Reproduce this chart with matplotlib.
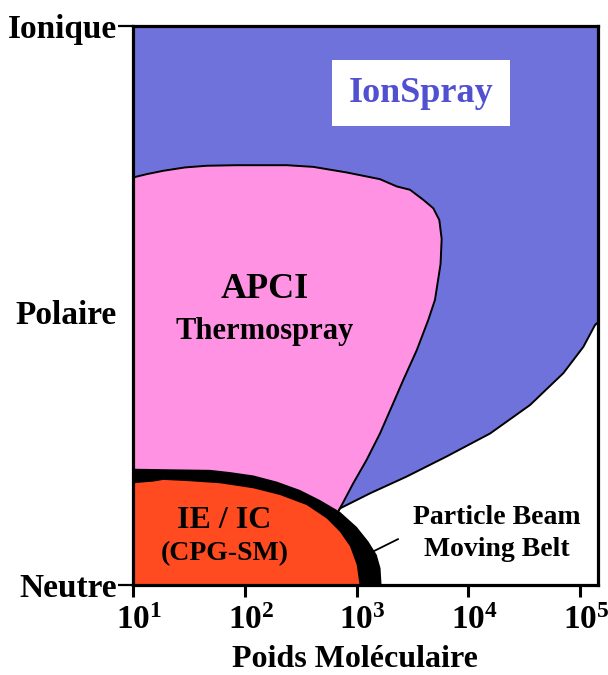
import numpy as np
import matplotlib
matplotlib.use('Agg')
import matplotlib.pyplot as plt
from matplotlib.ticker import NullLocator
from matplotlib.transforms import ScaledTranslation

plt.rcParams['font.family'] = ['Liberation Serif', 'DejaVu Serif']
plt.rcParams['font.weight'] = 'bold'
plt.rcParams['axes.labelweight'] = 'bold'
plt.rcParams['mathtext.fontset'] = 'custom'
plt.rcParams['mathtext.rm'] = 'Liberation Serif:bold'
plt.rcParams['mathtext.bf'] = 'Liberation Serif:bold'

# x = log10(poids moleculaire), y = polarite (0 = neutre, 100 = ionique)
ionspray_x = [5.161, 5.134, 5.030, 4.851, 4.553, 4.195, 3.807, 3.449, 3.121, 2.852, 2.843]
ionspray_y = [47.0, 46.5, 42.6, 37.9, 32.2, 27.1, 23.0, 19.4, 16.4, 13.7, 13.4]

apci_x = [1.000, 1.123, 1.271, 1.465, 1.660, 1.928, 2.375, 2.613, 2.912, 3.210,
          3.360, 3.479, 3.598, 3.687, 3.741, 3.762, 3.752, 3.702, 3.642, 3.539,
          3.419, 3.315, 3.210, 3.091, 2.971, 2.868, 2.843]
apci_y = [72.9, 73.5, 74.1, 74.7, 75.0, 75.1, 75.1, 74.8, 73.8, 72.6,
          71.3, 70.7, 68.9, 67.4, 65.3, 61.9, 57.4, 51.0, 47.4, 42.0,
          36.7, 31.9, 27.1, 22.4, 18.2, 14.3, 13.4]

beam_x = [1.000, 1.331, 1.689, 1.868, 2.077, 2.286, 2.494, 2.673, 2.852, 3.002,
          3.106, 3.181, 3.215, 3.224]
beam_y = [20.8, 20.7, 20.6, 20.2, 19.6, 18.5, 17.0, 15.2, 13.1, 10.4,
          7.8, 5.4, 3.0, 0.0]

ie_x = [1.000, 1.182, 1.271, 1.481, 1.779, 2.077, 2.315, 2.554, 2.733, 2.852,
        2.942, 3.002, 3.025, 3.027]
ie_y = [18.2, 18.5, 18.8, 18.6, 18.2, 17.3, 16.1, 14.3, 11.9, 9.5,
        6.9, 3.6, 0.3, 0.0]

leader_x = [3.139, 3.371]
leader_y = [5.9, 8.2]

xticks = [1, 2, 3, 4, 5]
xticklabels = [r'$\mathbf{10^{%d}}$' % k for k in xticks]
yticks = [0, 48.8, 100]
yticklabels = ['Neutre', 'Polaire', 'Ionique']

blue = '#7072DC'
pink = '#FF92E2'
red = '#FF4B1F'

fig = plt.figure(figsize=(6.08, 6.75), dpi=100)
ax = fig.add_axes([133 / 608, 1 - 585 / 675, 465 / 608, 559 / 675])

xmin, xmax = 1.0, 5.161

# IonSpray (zone bleue)
bx = [xmin, xmax] + ionspray_x + [xmin]
by = [100, 100] + ionspray_y + [ionspray_y[-1]]
ax.fill(10 ** np.array(bx), by, color=blue, lw=0, zorder=1)
ax.plot(10 ** np.array(ionspray_x), ionspray_y, color='black', lw=1.4,
        solid_joinstyle='round', zorder=2)

# APCI / Thermospray (zone rose)
px = apci_x + [xmin]
py = apci_y + [apci_y[-1]]
ax.fill(10 ** np.array(px), py, color=pink, lw=0, zorder=1.2)
ax.plot(10 ** np.array(apci_x), apci_y, color='black', lw=1.4,
        solid_joinstyle='round', zorder=2)

# Particle beam / moving belt (bande noire)
ax.fill(10 ** np.array(beam_x + [xmin]), beam_y + [0], color='black', lw=0, zorder=1.4)

# IE / IC (zone rouge)
ax.fill(10 ** np.array(ie_x + [xmin]), ie_y + [0], color=red, lw=0, zorder=1.6)

ax.plot(10 ** np.array(leader_x), leader_y, color='black', lw=1.3, zorder=2)

ax.set_xscale('log')
ax.set_xlim(10 ** xmin, 10 ** xmax)
ax.set_ylim(0, 100)

ax.text(10 ** 3.577, 88.0, 'IonSpray', color='#5050D0', fontsize=26, ha='center', va='center',
        bbox=dict(boxstyle='square,pad=0.45', fc='white', ec='none'), zorder=3)
ax.text(10 ** 2.181, 52.8, 'APCI', fontsize=26, ha='center', va='center', zorder=3)
ax.text(10 ** 2.181, 45.4, 'Thermospray', fontsize=22, ha='center', va='center', zorder=3)
ax.text(10 ** 1.819, 11.6, 'IE / IC', fontsize=23, ha='center', va='center', zorder=3)
ax.text(10 ** 1.819, 5.6, '(CPG-SM)', fontsize=20, ha='center', va='center', zorder=3)
ax.text(10 ** 4.257, 12.0, 'Particle Beam', fontsize=20, ha='center', va='center', zorder=3)
ax.text(10 ** 4.257, 6.3, 'Moving Belt', fontsize=20, ha='center', va='center', zorder=3)

ax.set_xticks([10 ** k for k in xticks])
ax.set_xticklabels(xticklabels, fontsize=24)
ax.xaxis.set_minor_locator(NullLocator())
ax.set_yticks(yticks)
ax.set_yticklabels(yticklabels, fontsize=24)
ax.yaxis.get_major_ticks()[1].tick1line.set_visible(False)

ax.tick_params(axis='x', direction='out', length=8.5, width=2.2, pad=6)
ax.tick_params(axis='y', direction='out', length=10.5, width=1.6, pad=1)

# decale les etiquettes 10^n un peu a droite, comme dans l'original
shift = ScaledTranslation(6 / 100, 0, fig.dpi_scale_trans)
for lab in ax.get_xticklabels():
    lab.set_transform(lab.get_transform() + shift)

for s in ax.spines.values():
    s.set_linewidth(2.3)

ax.set_xlabel('Poids Moléculaire', fontsize=23, fontweight='bold')
ax.xaxis.set_label_coords(0.478, -0.107)

fig.savefig('out.png', dpi=100)
